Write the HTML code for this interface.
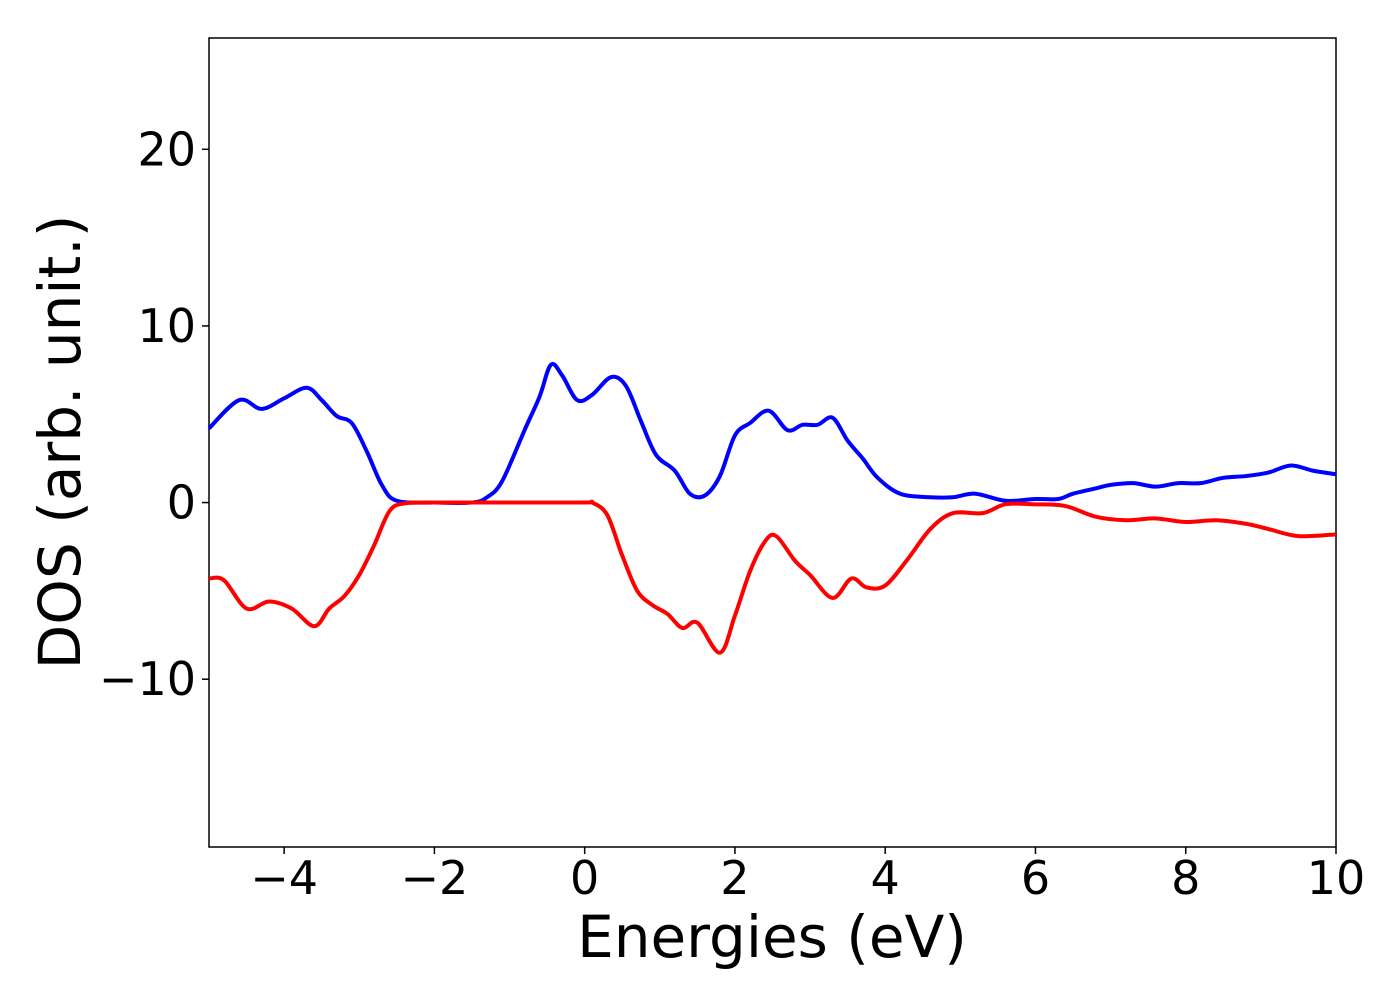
<!DOCTYPE html>
<html><head><meta charset="utf-8"><style>
html,body{margin:0;padding:0;background:#fff;}
svg{display:block;font-family:"DejaVu Sans","Liberation Sans",sans-serif;}
</style></head><body>
<svg id="chart" width="1400" height="1000">
<rect x="209" y="38" width="1127" height="809" fill="none" stroke="#000" stroke-width="1.5"/>
<g id="ticks"></g>
<g id="lines"></g>
<text x="772" y="957" font-size="58" text-anchor="middle">Energies (eV)</text>
<text transform="translate(80,442) rotate(-90)" font-size="58" text-anchor="middle">DOS (arb. unit.)</text>
</svg>
<script>
const xTicks = [-4,-2,0,2,4,6,8,10];
const yTicks = [-10,0,10,20];
const upE = [-5,-4.6,-4.3,-4.0,-3.7,-3.5,-3.3,-3.1,-2.9,-2.7,-2.5,-2.0,-1.5,-1.3,-1.1,-0.8,-0.6,-0.45,-0.3,-0.1,0.1,0.35,0.55,0.75,0.95,1.2,1.4,1.6,1.8,2.0,2.2,2.45,2.7,2.9,3.1,3.3,3.5,3.7,3.9,4.2,4.6,4.9,5.2,5.6,6.0,6.3,6.5,6.8,7.0,7.3,7.6,7.9,8.2,8.5,8.8,9.1,9.4,9.7,10];
const upV = [4.2,5.8,5.3,5.9,6.5,5.8,4.9,4.5,2.9,1.0,0.1,0,0,0.3,1.2,4.1,6.0,7.8,7.2,5.8,6.1,7.1,6.6,4.6,2.7,1.8,0.5,0.4,1.5,3.8,4.5,5.2,4.1,4.4,4.4,4.8,3.5,2.5,1.4,0.5,0.3,0.3,0.5,0.1,0.2,0.2,0.5,0.8,1.0,1.1,0.9,1.1,1.1,1.4,1.5,1.7,2.1,1.8,1.6];
const dnE = [-5,-4.8,-4.5,-4.2,-3.9,-3.6,-3.4,-3.2,-3.0,-2.8,-2.6,-2.4,-2.0,-1.0,0.0,0.1,0.3,0.5,0.7,0.9,1.1,1.3,1.5,1.8,2.0,2.2,2.4,2.55,2.8,3.0,3.3,3.55,3.75,4.0,4.3,4.6,4.9,5.3,5.6,6.0,6.4,6.8,7.2,7.6,8.0,8.4,8.8,9.1,9.5,10];
const dnV = [-4.3,-4.4,-6.0,-5.6,-6.0,-7.0,-6.0,-5.3,-4.1,-2.4,-0.5,-0.05,0,0,0,0,-0.7,-3.0,-5.0,-5.8,-6.3,-7.1,-6.8,-8.5,-6.4,-3.9,-2.2,-1.9,-3.3,-4.1,-5.4,-4.3,-4.8,-4.7,-3.2,-1.5,-0.6,-0.6,-0.1,-0.1,-0.2,-0.8,-1.0,-0.9,-1.1,-1.0,-1.2,-1.5,-1.9,-1.8];

const X0=209,X1=1336,Y0=38,Y1=847, XMIN=-5,XMAX=10, YMIN=-19.5, YMAX=26.3;
function xs(v){return X0+(v-XMIN)/(XMAX-XMIN)*(X1-X0);}
function ys(v){return Y1-(v-YMIN)/(YMAX-YMIN)*(Y1-Y0);}
const NS="http://www.w3.org/2000/svg";
const tg=document.getElementById('ticks');
function fmt(v){return v<0?'\u2212'+Math.abs(v):String(v);}
xTicks.forEach(t=>{
  const l=document.createElementNS(NS,'line');
  l.setAttribute('x1',xs(t));l.setAttribute('x2',xs(t));l.setAttribute('y1',Y1);l.setAttribute('y2',Y1+7);
  l.setAttribute('stroke','#000');l.setAttribute('stroke-width','1.5');
  
  
  tg.appendChild(l);
  const tx=document.createElementNS(NS,'text');
  tx.setAttribute('x',xs(t));tx.setAttribute('y',894);tx.setAttribute('font-size','46');tx.setAttribute('text-anchor','middle');
  tx.textContent=fmt(t);
  
  
  tg.appendChild(tx);
});
yTicks.forEach(t=>{
  const l=document.createElementNS(NS,'line');
  l.setAttribute('x1',X0-7);l.setAttribute('x2',X0);l.setAttribute('y1',ys(t));l.setAttribute('y2',ys(t));
  l.setAttribute('stroke','#000');l.setAttribute('stroke-width','1.5');
  
  
  tg.appendChild(l);
  const tx=document.createElementNS(NS,'text');
  tx.setAttribute('x',196);tx.setAttribute('y',ys(t)+16);tx.setAttribute('font-size','46');tx.setAttribute('text-anchor','end');
  tx.textContent=fmt(t);
  
  
  tg.appendChild(tx);
});
function pathFor(E,V){
  const p=E.map((e,i)=>[xs(e),ys(V[i])]);
  let d='M'+p[0][0]+','+p[0][1];
  for(let i=0;i<p.length-1;i++){
    const a=p[Math.max(0,i-1)],b=p[i],c=p[i+1],n=p[Math.min(p.length-1,i+2)];
    const c1x=b[0]+(c[0]-a[0])/6,c1y=b[1]+(c[1]-a[1])/6;
    const c2x=c[0]-(n[0]-b[0])/6,c2y=c[1]-(n[1]-b[1])/6;
    d+=' C'+c1x+','+c1y+' '+c2x+','+c2y+' '+c[0]+','+c[1];
  }
  return d;
}
const lg=document.getElementById('lines');
const up=document.createElementNS(NS,'path');
up.setAttribute('d',pathFor(upE,upV));up.setAttribute('fill','none');up.setAttribute('stroke','#0000ff');up.setAttribute('stroke-width','4');


lg.appendChild(up);
const dn=document.createElementNS(NS,'path');
dn.setAttribute('d',pathFor(dnE,dnV));dn.setAttribute('fill','none');dn.setAttribute('stroke','#ff0000');dn.setAttribute('stroke-width','4');


lg.appendChild(dn);
</script>
</body></html>
